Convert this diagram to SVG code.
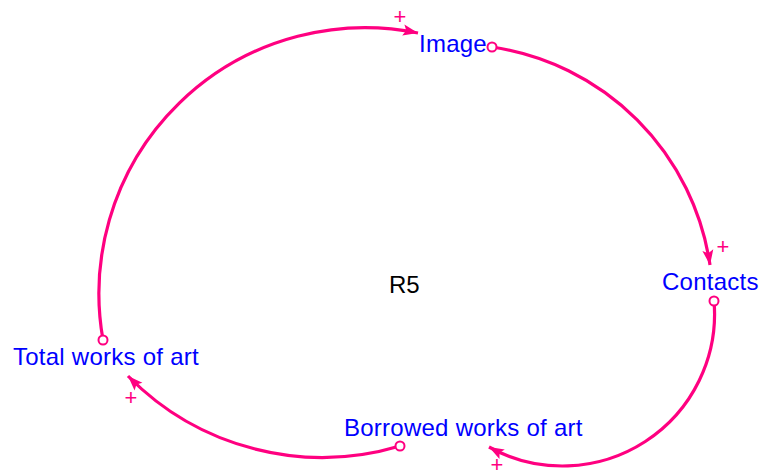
<svg xmlns="http://www.w3.org/2000/svg" width="760" height="476" viewBox="0 0 760 476">
<defs>
<style>
.lbl{font-family:"Liberation Sans",Arial,sans-serif;font-size:24px;letter-spacing:0.25px;fill:#0000FF}
.r{font-family:"Liberation Sans",Arial,sans-serif;font-size:24px;fill:#000}
.pl{font-family:"Liberation Sans",Arial,sans-serif;font-size:22px;fill:#FF0080;text-anchor:middle}
.lk{fill:none;stroke:#FF0080;stroke-width:3.2;marker-end:url(#ah)}
.tail{fill:#fff;stroke:#FF0080;stroke-width:2}
</style>
<marker id="ah" markerUnits="userSpaceOnUse" markerWidth="20" markerHeight="14" viewBox="-16 -7 18 14" refX="0" refY="0" orient="auto">
<path d="M0,0 L-15,-5.5 L-12,0 L-15,5.5 Z" fill="#FF0080"/>
</marker>
</defs>
<g id="connectors">
<path class="lk" d="M103,340 A266,266 0 0 1 418,33"/>
<path class="lk" d="M492,47 A258,258 0 0 1 710,265"/>
<path class="lk" d="M714,301 A152,152 0 0 1 489,447"/>
<path class="lk" d="M400,446 A272,272 0 0 1 128,376"/>
<circle class="tail" cx="492" cy="47" r="4.5"/>
<circle class="tail" cx="714" cy="301" r="4.5"/>
<circle class="tail" cx="400" cy="446" r="4.5"/>
<circle class="tail" cx="103" cy="340" r="4.5"/>
<text class="pl" x="400" y="24">+</text>
<text class="pl" x="723" y="254">+</text>
<text class="pl" x="497" y="472">+</text>
<text class="pl" x="131" y="405">+</text>
</g>
<g id="image"><text class="lbl" x="419" y="52">Image</text></g>
<g id="contacts"><text class="lbl" x="662" y="290">Contacts</text></g>
<g id="borrowed"><text class="lbl" x="344" y="436">Borrowed works of art</text></g>
<g id="total"><text class="lbl" x="13" y="365">Total works of art</text></g>
<g id="r5"><text class="r" x="389" y="293">R5</text></g>
</svg>
